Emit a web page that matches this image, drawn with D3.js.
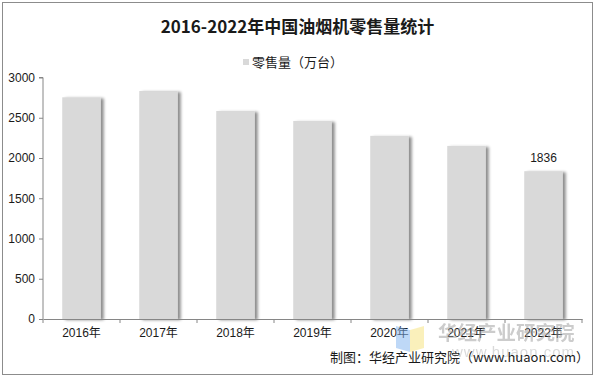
<!DOCTYPE html>
<html>
<head>
<meta charset="utf-8">
<script src="https://cdn.jsdelivr.net/npm/d3@7"></script>
<style>
  body { margin: 0; background: #fff; }
  svg { display: block; }
</style>
</head>
<body>
<div id="chart"></div>
<script>
  const years = ['2016年', '2017年', '2018年', '2019年', '2020年', '2021年', '2022年'];
  const sales = [2754, 2832, 2584, 2460, 2275, 2150, 1836];
  const yTicks = [0, 500, 1000, 1500, 2000, 2500, 3000];

  const w = 595, h = 378;
  const margin = { top: 77.5, right: 13, bottom: 59, left: 43 };
  const font = "'Liberation Sans', Arial, 'Noto Sans CJK SC', sans-serif";

  const svg = d3.select('#chart').append('svg')
    .attr('width', w)
    .attr('height', h);

  const defs = svg.append('defs');
  const shadow = defs.append('filter')
    .attr('id', 'shadow')
    .attr('x', '-20%').attr('y', '-5%')
    .attr('width', '150%').attr('height', '110%');
  shadow.append('feGaussianBlur')
    .attr('in', 'SourceAlpha')
    .attr('stdDeviation', 1.5)
    .attr('result', 'blur');
  shadow.append('feOffset')
    .attr('in', 'blur')
    .attr('dx', 3).attr('dy', 1)
    .attr('result', 'off');
  shadow.append('feComponentTransfer')
    .attr('in', 'off')
    .attr('result', 'soft')
    .append('feFuncA').attr('type', 'linear').attr('slope', 0.45);
  const merge = shadow.append('feMerge');
  merge.append('feMergeNode').attr('in', 'soft');
  merge.append('feMergeNode').attr('in', 'SourceGraphic');

  // outer frame
  svg.append('rect')
    .attr('x', 2.5).attr('y', 2.5)
    .attr('width', w - 5).attr('height', h - 6)
    .attr('fill', '#fff')
    .attr('stroke', '#8c8c8c');

  const x = d3.scaleBand()
    .domain(years)
    .range([margin.left, w - margin.right])
    .paddingInner(0.5)
    .paddingOuter(0.25);

  const y = d3.scaleLinear()
    .domain([0, 3000])
    .range([h - margin.bottom, margin.top]);

  // bars
  svg.append('g')
    .selectAll('rect')
    .data(years)
    .enter().append('rect')
    .attr('x', function(d) { return x(d); })
    .attr('y', function(d, i) { return y(sales[i]); })
    .attr('width', x.bandwidth())
    .attr('height', function(d, i) { return y(0) - y(sales[i]); })
    .attr('fill', '#d9d9d9')
    .attr('filter', 'url(#shadow)');

  // y axis
  const yAxis = svg.append('g')
    .attr('transform', `translate(${margin.left},0)`)
    .call(d3.axisLeft(y).tickValues(yTicks).tickFormat(d3.format('d')).tickSize(4).tickPadding(4));
  yAxis.select('.domain').attr('stroke', '#868686').attr('d', `M-4,${y(3000)}H0V${y(0)}`);
  yAxis.selectAll('.tick line').attr('stroke', '#868686');
  yAxis.selectAll('text')
    .attr('font-family', font)
    .attr('font-size', 12)
    .attr('fill', '#1a1a1a');

  // x axis
  const xAxis = svg.append('g')
    .attr('transform', `translate(0,${y(0)})`)
    .call(d3.axisBottom(x).tickSize(0).tickPadding(9));
  xAxis.select('.domain').attr('stroke', '#868686');
  xAxis.selectAll('text')
    .attr('font-family', font)
    .attr('font-size', 12)
    .attr('fill', '#1a1a1a');
  const step = x.step();
  xAxis.selectAll('.sep')
    .data(d3.range(years.length + 1))
    .enter().append('line')
    .attr('x1', function(i) { return margin.left + i * step; })
    .attr('x2', function(i) { return margin.left + i * step; })
    .attr('y1', 0).attr('y2', 4)
    .attr('stroke', '#868686');

  // data label on last bar
  const last = years.length - 1;
  svg.append('text')
    .attr('x', x(years[last]) + x.bandwidth() / 2)
    .attr('y', y(sales[last]) - 9)
    .attr('text-anchor', 'middle')
    .attr('font-family', font)
    .attr('font-size', 12)
    .attr('fill', '#1a1a1a')
    .text(sales[last]);

  // title
  svg.append('text')
    .attr('x', w / 2)
    .attr('y', 33)
    .attr('text-anchor', 'middle')
    .attr('font-family', "'Noto Sans CJK SC', sans-serif")
    .attr('font-weight', 'bold')
    .attr('font-size', 17)
    .attr('fill', '#1a1a1a')
    .text('2016-2022年中国油烟机零售量统计');

  // legend
  svg.append('rect')
    .attr('x', 243).attr('y', 59)
    .attr('width', 6).attr('height', 6)
    .attr('fill', '#d9d9d9');
  svg.append('text')
    .attr('x', 252)
    .attr('y', 67)
    .attr('font-family', "'Noto Sans CJK SC', sans-serif")
    .attr('font-size', 13)
    .attr('fill', '#1a1a1a')
    .text('零售量（万台）');

  // watermark
  const wm = svg.append('g').attr('opacity', 0.5);
  wm.append('path')
    .attr('d', 'M396,326 L410,330 L410,352 L396,348 Z')
    .attr('fill', '#7fb2f0');
  wm.append('path')
    .attr('d', 'M410,330 L424,326 L424,348 L410,352 Z')
    .attr('fill', '#f7e27a');
  wm.append('text')
    .attr('x', 438).attr('y', 340)
    .attr('font-family', "'Noto Sans CJK SC', sans-serif")
    .attr('font-weight', 'bold')
    .attr('font-size', 19.5)
    .attr('fill', '#9a9a9a')
    .text('华经产业研究院');
  wm.append('text')
    .attr('x', 452).attr('y', 357)
    .attr('font-family', font)
    .attr('font-size', 15)
    .attr('fill', '#b5b5b5')
    .attr('letter-spacing', 1)
    .text('www.huaon.com');

  // source
  svg.append('text')
    .attr('x', 589)
    .attr('y', 362)
    .attr('text-anchor', 'end')
    .attr('font-family', "'Noto Sans CJK SC', sans-serif")
    .attr('font-size', 13)
    .attr('fill', '#1a1a1a')
    .text('制图：华经产业研究院（www.huaon.com）');
</script>
</body>
</html>
